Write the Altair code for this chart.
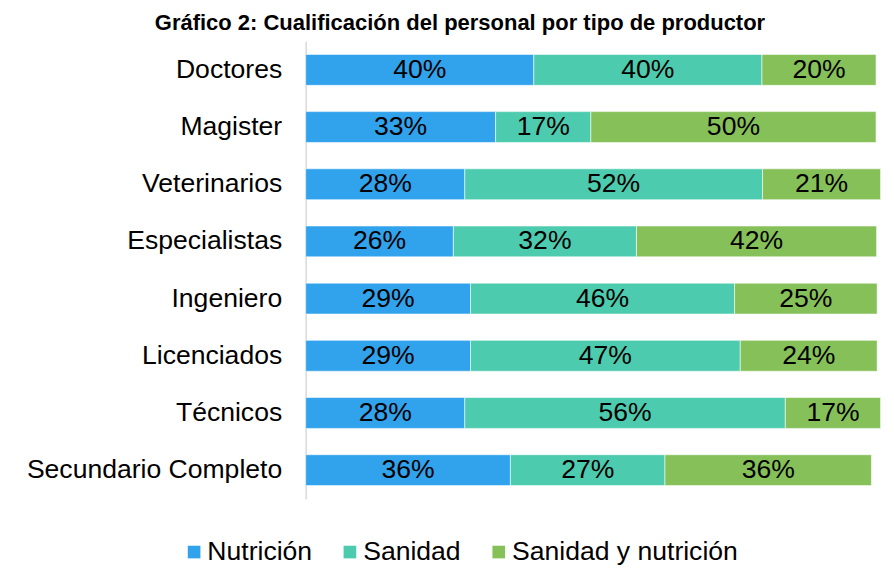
import altair as alt
import pandas as pd

categories = ["Doctores", "Magister", "Veterinarios", "Especialistas",
              "Ingeniero", "Licenciados", "Técnicos", "Secundario Completo"]
series = ["Nutrición", "Sanidad", "Sanidad y nutrición"]
nutricion = [40.0, 33.3, 27.9, 25.9, 28.9, 28.9, 27.9, 35.9]
sanidad = [40.0, 16.7, 52.2, 32.1, 46.3, 47.3, 56.2, 27.1]
sanidad_nutricion = [20.0, 50.0, 20.7, 42.1, 25.0, 24.0, 16.7, 36.2]
colors = ["#31A2EC", "#4DCBAE", "#86C059"]
title_text = "Gráfico 2: Cualificación del personal por tipo de productor"

rows = []
for i, cat in enumerate(categories):
    start = 0.0
    for s, vals in zip(series, [nutricion, sanidad, sanidad_nutricion]):
        v = vals[i]
        rows.append({"categoria": cat, "serie": s, "valor": v,
                     "inicio": start, "fin": start + v,
                     "medio": start + v / 2,
                     "etiqueta": f"{round(v):.0f}%"})
        start += v
df = pd.DataFrame(rows)

FONT = "Liberation Sans"

y_enc = alt.Y("categoria:N", sort=categories, title=None,
              scale=alt.Scale(paddingInner=0.46, paddingOuter=0.23),
              axis=alt.Axis(ticks=False, labelPadding=24, labelFontSize=26.6,
                            labelFont=FONT, labelColor="#000000",
                            domainColor="#d9d9d9", domainWidth=1.5,
                            labelLimit=400))
x_scale = alt.Scale(domain=[0, 100], nice=False, zero=True)

bars = alt.Chart(df).mark_bar(stroke="white", strokeWidth=0.8, strokeOpacity=0.7).encode(
    x=alt.X("inicio:Q", scale=x_scale, axis=None),
    x2="fin:Q",
    y=y_enc,
    color=alt.Color("serie:N", sort=series,
                    scale=alt.Scale(domain=series, range=colors),
                    legend=alt.Legend(title=None, orient="none", direction="horizontal",
                                      legendX=-125, legendY=498,
                                      symbolType="square", symbolSize=160,
                                      symbolStrokeWidth=0, symbolOpacity=1,
                                      labelFontSize=26.6, labelFont=FONT,
                                      labelColor="#000000", labelOffset=0,
                                      labelLimit=500,
                                      columnPadding=24, padding=0)),
)

labels = alt.Chart(df).mark_text(fontSize=26.6, font=FONT, color="#000000",
                                 align="center", baseline="middle").encode(
    x=alt.X("medio:Q", scale=x_scale, axis=None),
    y=alt.Y("categoria:N", sort=categories),
    text="etiqueta:N",
)

chart = alt.layer(bars, labels).properties(
    width=571, height=458,
    title=alt.TitleParams(title_text, fontSize=22, font=FONT, fontWeight="bold",
                          color="#000000", anchor="middle", frame="group",
                          dx=-131, offset=6),
    autosize=alt.AutoSizeParams(type="none"),
    padding={"left": 298, "top": 33, "right": 10, "bottom": 70},
).configure(background="white").configure_view(stroke=None, strokeWidth=0)

chart.save("out.html", embed_options={"renderer": "svg", "actions": False})
